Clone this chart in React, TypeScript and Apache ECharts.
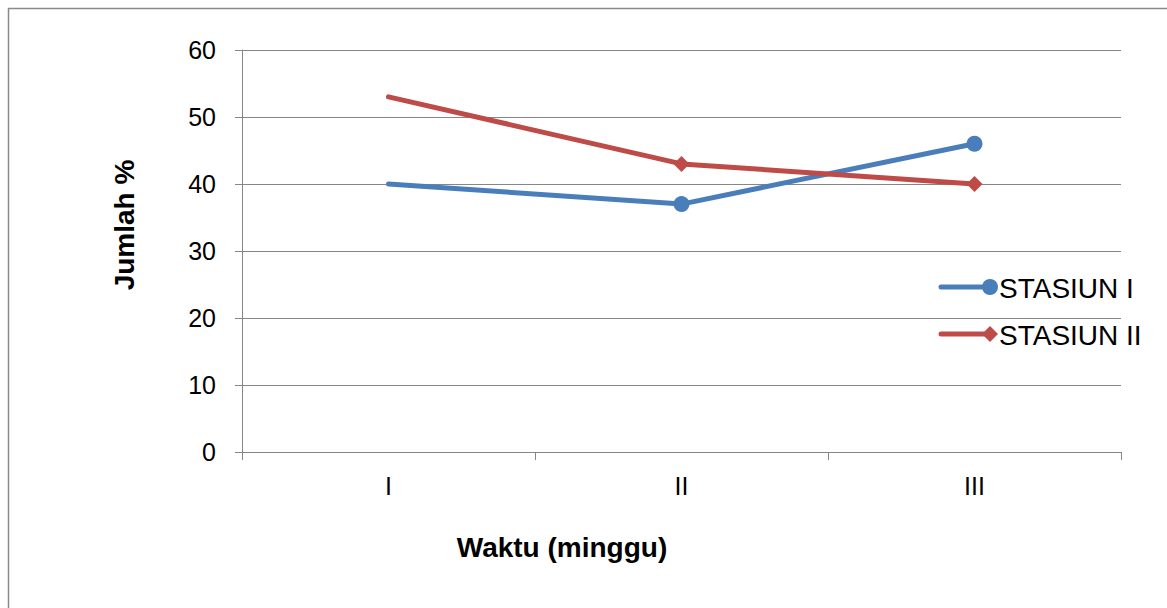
import React, { useEffect, useRef } from "react";
import * as echarts from "echarts";

const categories = ["I", "II", "III"];
const stasiun1 = [40, 37, 46];
const stasiun2 = [53, 43, 40];
const seriesNames = ["STASIUN I", "STASIUN II"];
const yTicks = { min: 0, max: 60, interval: 10 };
const xTitle = "Waktu (minggu)";
const yTitle = "Jumlah %";

const BLUE = "#4a7ebb";
const RED = "#be4b48";
const FONT = "'Liberation Sans', Arial, sans-serif";

export default function App() {
  const ref = useRef<HTMLDivElement>(null);
  useEffect(() => {
    document.body.style.margin = "0";
    const chart = echarts.init(ref.current!, null, { renderer: "svg" });
    const withFirstHidden = (arr: number[]) =>
      arr.map((v, i) => (i === 0 ? { value: v, symbol: "none" } : v));
    chart.setOption({
      animation: false,
      backgroundColor: "#ffffff",
      textStyle: { fontFamily: FONT },
      grid: { left: 242, right: 46, top: 50, bottom: 156, containLabel: false },
      xAxis: {
        type: "category",
        data: categories,
        boundaryGap: true,
        axisLine: { show: true, lineStyle: { color: "#868686", width: 1 } },
        axisTick: { show: true, length: 8, inside: false, alignWithLabel: false, lineStyle: { color: "#868686" } },
        axisLabel: { fontSize: 25, color: "#000", margin: 21, fontFamily: FONT },
        splitLine: { show: false },
      },
      yAxis: {
        type: "value",
        min: yTicks.min,
        max: yTicks.max,
        interval: yTicks.interval,
        axisLine: { show: true, lineStyle: { color: "#868686", width: 1 } },
        axisTick: { show: true, length: 7, inside: false, lineStyle: { color: "#868686" } },
        axisLabel: { fontSize: 25, color: "#000", margin: 26, fontFamily: FONT },
        splitLine: { show: true, lineStyle: { color: "#868686", width: 1 } },
      },
      graphic: [
        {
          type: "rect",
          shape: { x: 8.5, y: 8.5, width: 1200, height: 700 },
          style: { fill: "none", stroke: "#8a8a8a", lineWidth: 1.5 },
          silent: true,
        },
        {
          type: "text",
          x: 562,
          y: 547,
          style: { text: xTitle, fill: "#000", font: `bold 28px ${FONT}`, align: "center", verticalAlign: "middle" },
        },
        {
          type: "text",
          x: 124,
          y: 225,
          rotation: Math.PI / 2,
          style: { text: yTitle, fill: "#000", font: `bold 28px ${FONT}`, align: "center", verticalAlign: "middle" },
        },
        {
          type: "line",
          shape: { x1: 941, y1: 287, x2: 990, y2: 287 },
          style: { stroke: BLUE, lineWidth: 5, lineCap: "round" },
        },
        {
          type: "circle",
          shape: { cx: 990, cy: 287, r: 8 },
          style: { fill: BLUE },
        },
        {
          type: "text",
          x: 999,
          y: 288,
          style: { text: seriesNames[0], fill: "#000", font: `28px ${FONT}`, verticalAlign: "middle", align: "left" },
        },
        {
          type: "line",
          shape: { x1: 941, y1: 334, x2: 990, y2: 334 },
          style: { stroke: RED, lineWidth: 5, lineCap: "round" },
        },
        {
          type: "polygon",
          shape: { points: [[990, 326], [998, 334], [990, 342], [982, 334]] },
          style: { fill: RED },
        },
        {
          type: "text",
          x: 999,
          y: 335,
          style: { text: seriesNames[1], fill: "#000", font: `28px ${FONT}`, verticalAlign: "middle", align: "left" },
        },
      ],
      series: [
        {
          name: seriesNames[0],
          type: "line",
          data: withFirstHidden(stasiun1),
          symbol: "circle",
          symbolSize: 16,
          showSymbol: true,
          lineStyle: { color: BLUE, width: 5, cap: "round" },
          itemStyle: { color: BLUE },
        },
        {
          name: seriesNames[1],
          type: "line",
          data: withFirstHidden(stasiun2),
          symbol: "diamond",
          symbolSize: [16, 16],
          showSymbol: true,
          lineStyle: { color: RED, width: 5, cap: "round" },
          itemStyle: { color: RED },
        },
      ],
    });
    return () => chart.dispose();
  }, []);
  return (
    <div
      ref={ref}
      style={{ position: "absolute", left: 0, top: 0, width: 1167, height: 608 }}
    />
  );
}
